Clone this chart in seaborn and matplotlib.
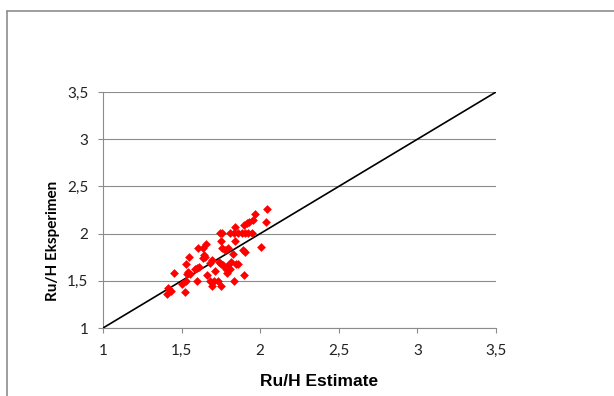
import matplotlib
matplotlib.use("Agg")
import matplotlib.pyplot as plt
import seaborn as sns
import pandas as pd
from matplotlib.lines import Line2D

estimate = [2.045, 2.039, 1.965, 1.952, 1.931, 1.916, 1.899,
            1.744, 1.760, 1.808, 1.833, 1.858, 1.885, 1.905, 1.925, 1.946, 1.840,
            2.003, 1.753, 1.840, 1.655, 1.638, 1.606, 1.755, 1.776, 1.793,
            1.893, 1.903, 1.644, 1.638, 1.649, 1.547, 1.829, 1.695, 1.680,
            1.765, 1.787, 1.808, 1.781, 1.846, 1.857, 1.528, 1.596, 1.613, 1.585,
            1.543, 1.532, 1.553, 1.452, 1.663, 1.712, 1.789, 1.899,
            1.596, 1.680, 1.708, 1.733, 1.833, 1.500, 1.526, 1.691, 1.751,
            1.415, 1.433, 1.409, 1.522, 1.787, 1.815, 1.738, 1.748]
eksperimen = [2.257, 2.126, 2.208, 2.144, 2.126, 2.109, 2.091,
              2.003, 2.003, 2.003, 2.003, 2.003, 2.003, 2.003, 2.003, 2.003, 2.067,
              1.855, 1.920, 1.920, 1.886, 1.850, 1.844, 1.844, 1.826, 1.850,
              1.826, 1.800, 1.773, 1.738, 1.755, 1.752, 1.780, 1.720, 1.685,
              1.667, 1.649, 1.625, 1.622, 1.678, 1.678, 1.675, 1.632, 1.649, 1.622,
              1.596, 1.569, 1.572, 1.579, 1.561, 1.604, 1.579, 1.561,
              1.500, 1.500, 1.500, 1.500, 1.498, 1.463, 1.498, 1.448, 1.448,
              1.420, 1.395, 1.360, 1.378, 1.660, 1.700, 1.700, 1.680]
line_x = [1.0, 3.5]
line_y = [1.0, 3.5]
ticks = [1, 1.5, 2, 2.5, 3, 3.5]
tick_labels = ["1", "1,5", "2", "2,5", "3", "3,5"]
x_title = "Ru/H Estimate"
y_title = "Ru/H Eksperimen"

sns.set_style("white")
plt.rcParams['font.family'] = ['Lato', 'DejaVu Sans']

fig = plt.figure(figsize=(6.14, 3.96), dpi=100)
ax = fig.add_axes([103/614, 1-328/396, (496-103)/614, (328-92)/396])

df = pd.DataFrame({"x": estimate, "y": eksperimen})
sns.lineplot(x=line_x, y=line_y, ax=ax, color="black", linewidth=1.2, zorder=3)
sns.scatterplot(data=df, x="x", y="y", ax=ax, marker="D", color="#ff0000",
                s=20, linewidth=0, zorder=4)

ax.set_xlim(1, 3.5)
ax.set_ylim(1, 3.5)
ax.set_xticks(ticks)
ax.set_xticklabels(tick_labels)
ax.set_yticks(ticks)
ax.set_yticklabels(tick_labels)
ax.yaxis.grid(True, color="#8c8c8c", linewidth=0.8)
ax.xaxis.grid(False)
ax.set_axisbelow(True)
for s in ["top", "right"]:
    ax.spines[s].set_visible(False)
for s in ["left", "bottom"]:
    ax.spines[s].set_color("#8c8c8c")
    ax.spines[s].set_linewidth(0.8)
ax.tick_params(axis="both", which="both", direction="out", length=3.6, width=0.8,
               color="#8c8c8c", labelsize=11, labelcolor="#222222",
               bottom=True, left=True)
ax.tick_params(axis="y", pad=7)
ax.tick_params(axis="x", pad=8)
ax.set_xlabel("")
ax.set_ylabel("")

fig.text(319/614, 1-382/396, x_title, ha="center", va="center", fontsize=12.5,
         fontweight="bold", family=["Liberation Sans", "DejaVu Sans"], color="black")
fig.text(53/614, 1-241/396, y_title, ha="center", va="center", fontsize=11,
         fontweight="bold", rotation=90, color="black")

fig.add_artist(Line2D([7/614, 7/614], [1-11/396, 0], color="#8c8c8c", linewidth=1.2,
                      transform=fig.transFigure))
fig.add_artist(Line2D([7/614, 1], [1-11/396, 1-11/396], color="#8c8c8c", linewidth=1.2,
                      transform=fig.transFigure))

fig.savefig("out.png", dpi=100)
